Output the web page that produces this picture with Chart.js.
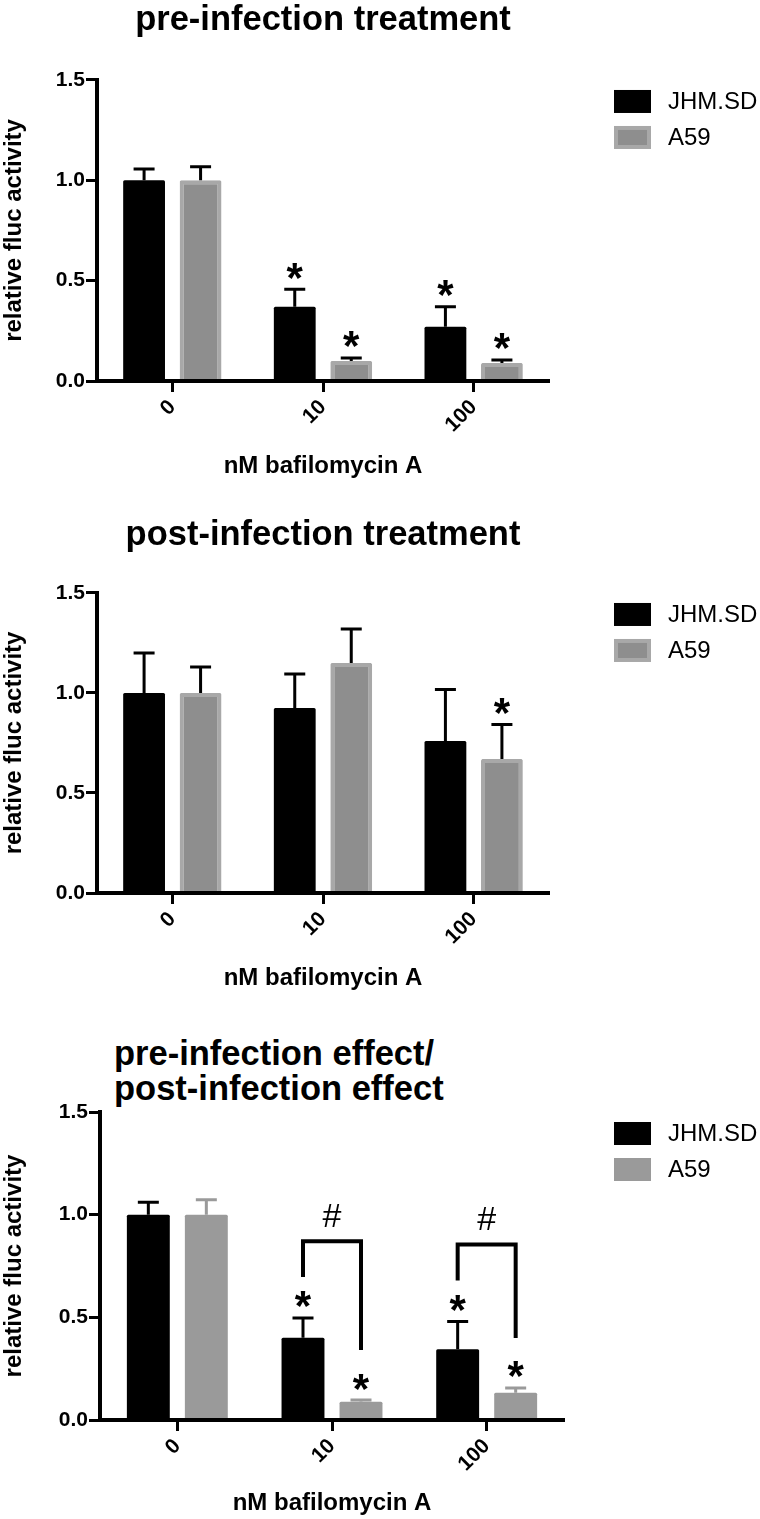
<!DOCTYPE html>
<html>
<head>
<meta charset="utf-8">
<script src="https://cdn.jsdelivr.net/npm/chart.js@4.4.1/dist/chart.umd.min.js"></script>
<style>
  body { margin: 0; background: #fff; }
  #page { position: relative; width: 760px; height: 1519px; }
  canvas { position: absolute; left: 0; }
  #title3 {
    position: absolute; left: 114px; top: 1036px;
    font: bold 34.5px/35px "Liberation Sans", Arial, sans-serif;
    color: #000; white-space: nowrap;
  }
</style>
</head>
<body>
<div id="page">
  <canvas id="preChart" width="760" height="491" style="top:0px"></canvas>
  <canvas id="postChart" width="760" height="512" style="top:491px"></canvas>
  <div id="title3">pre-infection effect/<br>post-infection effect</div>
  <canvas id="ratioChart" width="760" height="516" style="top:1003px"></canvas>
</div>
<script>
const categories = ['0', '10', '100'];
const seriesNames = ['JHM.SD', 'A59'];

// pre-infection treatment
const preJHM = [1.0, 0.37, 0.27];
const preJHMErr = [0.056, 0.087, 0.10];
const preA59 = [1.0, 0.10, 0.09];
const preA59Err = [0.068, 0.015, 0.015];
const preStarsJHM = [false, true, true];
const preStarsA59 = [false, true, true];

// post-infection treatment
const postJHM = [1.0, 0.925, 0.76];
const postJHMErr = [0.20, 0.17, 0.258];
const postA59 = [1.0, 1.15, 0.67];
const postA59Err = [0.13, 0.17, 0.172];
const postStarsJHM = [false, false, false];
const postStarsA59 = [false, false, true];

// pre-infection effect / post-infection effect
const ratioJHM = [1.0, 0.40, 0.345];
const ratioJHMErr = [0.06, 0.097, 0.135];
const ratioA59 = [1.0, 0.089, 0.133];
const ratioA59Err = [0.073, 0.008, 0.023];
const ratioStarsJHM = [false, true, true];
const ratioStarsA59 = [false, true, true];
const ratioBracketLevel = [null, 0.87, 0.855];

const FONT = '"Liberation Sans", Arial, sans-serif';

// error bars, stars, # brackets and the legend box
const extrasPlugin = {
    id: 'extras',
    afterDatasetsDraw(chart, args, opts) {
        const ctx = chart.ctx;
        const yScale = chart.scales.y;
        const errTops = [];
        chart.data.datasets.forEach((ds, i) => {
            const meta = chart.getDatasetMeta(i);
            errTops[i] = [];
            meta.data.forEach((bar, j) => {
                const top = yScale.getPixelForValue(ds.data[j] + ds.errors[j]);
                errTops[i][j] = top;
                ctx.save();
                ctx.strokeStyle = ds.errorColor;
                ctx.lineWidth = 3;
                ctx.beginPath();
                ctx.moveTo(bar.x, bar.y);
                ctx.lineTo(bar.x, top);
                ctx.moveTo(bar.x - 10.5, top);
                ctx.lineTo(bar.x + 10.5, top);
                ctx.stroke();
                if (ds.stars[j]) {
                    ctx.fillStyle = '#000';
                    ctx.font = 'bold 42px ' + FONT;
                    ctx.textAlign = 'center';
                    ctx.textBaseline = 'alphabetic';
                    ctx.fillText('*', bar.x, top - 21 + 23.5);
                }
                ctx.restore();
            });
        });

        if (opts.brackets) {
            const left = chart.getDatasetMeta(0).data;
            const right = chart.getDatasetMeta(1).data;
            opts.brackets.forEach((level, j) => {
                if (level === null) return;
                const xL = left[j].x, xR = right[j].x;
                const yTop = yScale.getPixelForValue(level);
                ctx.save();
                ctx.strokeStyle = '#000';
                ctx.lineWidth = 4;
                ctx.beginPath();
                ctx.moveTo(xL, errTops[0][j] - 41);
                ctx.lineTo(xL, yTop);
                ctx.lineTo(xR, yTop);
                ctx.lineTo(xR, errTops[1][j] - 50);
                ctx.stroke();
                ctx.fillStyle = '#000';
                ctx.font = '34px ' + FONT;
                ctx.textAlign = 'center';
                ctx.textBaseline = 'middle';
                ctx.fillText('#', (xL + xR) / 2, yTop - 24);
                ctx.restore();
            });
        }

        // legend
        const area = chart.chartArea;
        chart.data.datasets.forEach((ds, i) => {
            const bx = opts.legendX, by = area.top + 10 + 36 * i;
            ctx.save();
            if (ds.borderWidth) {
                ctx.fillStyle = ds.borderColor;
                ctx.fillRect(bx, by, 37, 23);
                ctx.fillStyle = ds.backgroundColor;
                ctx.fillRect(bx + 4, by + 4, 29, 15);
            } else {
                ctx.fillStyle = ds.backgroundColor;
                ctx.fillRect(bx, by, 37, 23);
            }
            ctx.fillStyle = '#000';
            ctx.font = '24px ' + FONT;
            ctx.textAlign = 'left';
            ctx.textBaseline = 'middle';
            ctx.fillText(ds.label, bx + 54, by + 12);
            ctx.restore();
        });
    }
};

function buildChart(id, setup) {
    const ctx = document.getElementById(id).getContext('2d');
    return new Chart(ctx, {
        type: 'bar',
        data: {
            labels: categories,
            datasets: [{
                label: seriesNames[0],
                data: setup.jhm,
                errors: setup.jhmErr,
                stars: setup.jhmStars,
                errorColor: '#000',
                backgroundColor: '#000',
                borderWidth: 0,
                borderRadius: 1.5,
                categoryPercentage: 0.75,
                barPercentage: 0.74
            }, {
                label: seriesNames[1],
                data: setup.a59,
                errors: setup.a59Err,
                stars: setup.a59Stars,
                errorColor: setup.grayError,
                backgroundColor: setup.grayFill,
                borderColor: setup.grayBorder,
                borderWidth: setup.grayBorderWidth,
                borderRadius: 1.5,
                categoryPercentage: 0.75,
                barPercentage: 0.74
            }]
        },
        options: {
            responsive: false,
            animation: false,
            layout: { padding: { top: setup.padTop, right: setup.padRight, left: 0, bottom: 0 } },
            plugins: {
                legend: { display: false },
                tooltip: { enabled: false },
                title: {
                    display: !!setup.title,
                    text: setup.title,
                    fullSize: false,
                    color: '#000',
                    font: { family: FONT, size: 34.5, weight: 'bold', lineHeight: 0.95 },
                    padding: setup.titlePadding
                },
                extras: { legendX: 614, brackets: setup.brackets }
            },
            scales: {
                x: {
                    afterFit: (scale) => { scale.height = setup.xHeight; },
                    grid: { display: true, drawOnChartArea: false, offset: false,
                            tickLength: 11, tickWidth: 3, color: '#000' },
                    border: { display: true, width: 4, color: '#000', z: 1 },
                    ticks: { color: '#000', minRotation: 45, maxRotation: 45, padding: 3,
                             font: { family: FONT, size: 21, weight: 'bold' } },
                    title: { display: true, text: 'nM bafilomycin A', color: '#000',
                             font: { family: FONT, size: 24, weight: 'bold' },
                             padding: { top: 0, bottom: setup.xTitlePad } }
                },
                y: {
                    min: 0,
                    max: 1.5,
                    afterFit: (scale) => { scale.width = setup.yWidth; },
                    grid: { display: true, drawOnChartArea: false,
                            tickLength: 11, tickWidth: 3, color: '#000' },
                    border: { display: true, width: 4, color: '#000', z: 1 },
                    ticks: { stepSize: 0.5, color: '#000', padding: 1,
                             font: { family: FONT, size: 21, weight: 'bold' },
                             callback: (v) => Number(v).toFixed(1) },
                    title: { display: true, text: 'relative fluc activity', color: '#000',
                             font: { family: FONT, size: 24, weight: 'bold' },
                             padding: { top: 0, bottom: 0 } }
                }
            }
        },
        plugins: [extrasPlugin]
    });
}

buildChart('preChart', {
    title: 'pre-infection treatment',
    titlePadding: { top: 4, bottom: 43.2 },
    padTop: 0, padRight: 211, yWidth: 97, xHeight: 110, xTitlePad: 10.6,
    jhm: preJHM, jhmErr: preJHMErr, jhmStars: preStarsJHM,
    a59: preA59, a59Err: preA59Err, a59Stars: preStarsA59,
    grayFill: '#8e8e8e', grayBorder: '#a8a8a8', grayBorderWidth: 4, grayError: '#000'
});

buildChart('postChart', {
    title: 'post-infection treatment',
    titlePadding: { top: 27.6, bottom: 41.6 },
    padTop: 0, padRight: 211, yWidth: 97, xHeight: 110, xTitlePad: 10.6,
    jhm: postJHM, jhmErr: postJHMErr, jhmStars: postStarsJHM,
    a59: postA59, a59Err: postA59Err, a59Stars: postStarsA59,
    grayFill: '#8e8e8e', grayBorder: '#a8a8a8', grayBorderWidth: 4, grayError: '#000'
});

buildChart('ratioChart', {
    title: null,
    titlePadding: 0,
    padTop: 109, padRight: 196, yWidth: 100, xHeight: 99, xTitlePad: 1.6,
    jhm: ratioJHM, jhmErr: ratioJHMErr, jhmStars: ratioStarsJHM,
    a59: ratioA59, a59Err: ratioA59Err, a59Stars: ratioStarsA59,
    grayFill: '#9a9a9a', grayBorder: '#9a9a9a', grayBorderWidth: 0, grayError: '#9a9a9a',
    brackets: ratioBracketLevel
});
</script>
</body>
</html>
